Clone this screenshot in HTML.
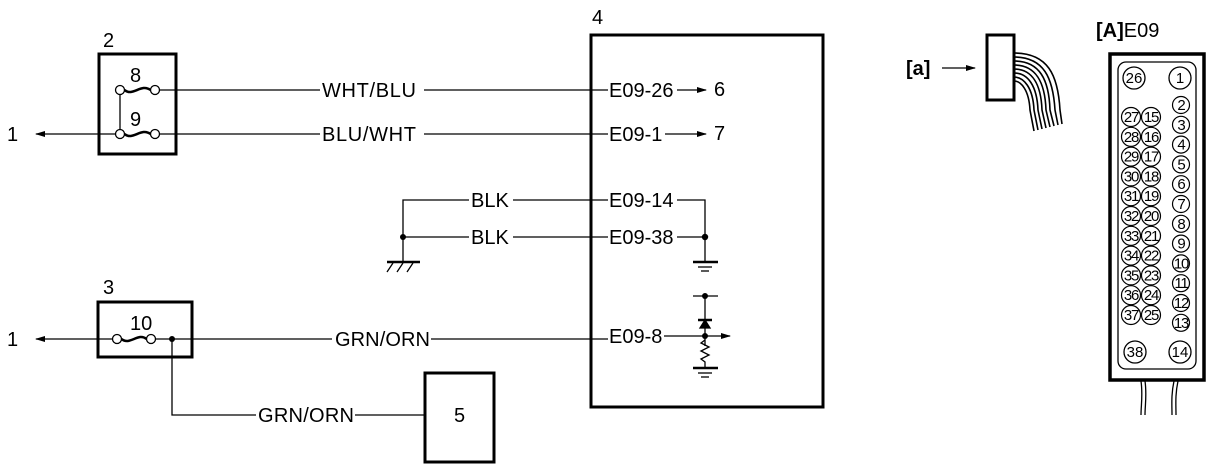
<!DOCTYPE html>
<html><head><style>html,body{margin:0;padding:0;background:#fff}svg{display:block}text{font-family:"Liberation Sans",sans-serif;fill:#000}</style></head>
<body>
<svg width="1214" height="474" viewBox="0 0 1214 474" xmlns="http://www.w3.org/2000/svg">
<defs><marker id="ar" markerWidth="10" markerHeight="8" refX="9" refY="4" orient="auto" markerUnits="userSpaceOnUse"><path d="M0,1 L10,4 L0,7 Z" fill="#000"/></marker></defs>
<g stroke="#000" fill="none" stroke-width="1.3">
<rect x="99" y="54" width="77" height="100" stroke-width="3"/>
<circle cx="120" cy="90" r="4.5"/><circle cx="155" cy="90" r="4.5"/>
<path d="M124.5,90 C133,97 141,83 150.5,90" stroke-width="2.5"/>
<circle cx="120" cy="134" r="4.5"/><circle cx="155" cy="134" r="4.5"/>
<path d="M124.5,134 C133,141 141,127 150.5,134" stroke-width="2.5"/>
<line x1="120" y1="94.5" x2="120" y2="129.5"/>
<line x1="115.5" y1="134" x2="36" y2="134" marker-end="url(#ar)"/>
<line x1="159.5" y1="90" x2="320" y2="90"/><line x1="424" y1="90" x2="608" y2="90"/>
<line x1="159.5" y1="134" x2="320" y2="134"/><line x1="424" y1="134" x2="608" y2="134"/>
<line x1="677" y1="90" x2="706" y2="90" marker-end="url(#ar)"/>
<line x1="665" y1="134" x2="706" y2="134" marker-end="url(#ar)"/>
<rect x="591" y="35" width="232" height="372" stroke-width="3"/>
<polyline points="403,262 403,200 469,200"/><line x1="513" y1="200" x2="608" y2="200"/>
<line x1="403" y1="237" x2="469" y2="237"/><line x1="513" y1="237" x2="608" y2="237"/>
<line x1="387" y1="262" x2="420" y2="262" stroke-width="2.5"/>
<path d="M393,263 L387,272 M403,263 L397,272 M413,263 L407,272"/>
<polyline points="677,200 705,200 705,262"/><line x1="677" y1="237" x2="705" y2="237"/>
<line x1="693" y1="262" x2="718" y2="262" stroke-width="2.5"/>
<line x1="698" y1="267" x2="712" y2="267"/><line x1="701" y1="271" x2="709" y2="271"/>
<line x1="693" y1="296" x2="718" y2="296"/>
<line x1="705" y1="296" x2="705" y2="346"/>
<line x1="698" y1="320" x2="712" y2="320" stroke-width="2.5"/>
<path d="M705,320 L700,328 L710,328 Z" fill="#000"/>
<line x1="705" y1="336" x2="730" y2="336" marker-end="url(#ar)"/>
<path d="M705,340 L701,343 L709,347 L701,351 L709,355 L701,359 L705,362 L705,368"/>
<line x1="693" y1="368" x2="718" y2="368" stroke-width="2.5"/>
<line x1="698" y1="373" x2="712" y2="373"/><line x1="701" y1="377" x2="709" y2="377"/>
<rect x="98" y="302" width="94" height="55" stroke-width="3"/>
<circle cx="117" cy="339" r="4.5"/><circle cx="151" cy="339" r="4.5"/>
<path d="M121.5,339 C130,346 138,332 146.5,339" stroke-width="2.5"/>
<line x1="112.5" y1="339" x2="36" y2="339" marker-end="url(#ar)"/>
<line x1="155.5" y1="339" x2="332" y2="339"/><line x1="431" y1="339" x2="608" y2="339"/>
<line x1="664" y1="336" x2="705" y2="336"/>
<polyline points="172,339 172,415 256,415"/><line x1="355" y1="415" x2="425" y2="415"/>
<rect x="425" y="373" width="69" height="89" stroke-width="3"/>
<line x1="942" y1="68" x2="975" y2="68" marker-end="url(#ar)"/>
<rect x="987" y="35" width="27" height="65" stroke-width="3"/>
<g stroke-width="1.6">
<path d="M1014,53 C1048,53 1058,75 1060,110 L1062,124"/>
<path d="M1014,57 C1044,57 1053,78 1055,110 L1058,125"/>
<path d="M1014,61 C1040,61 1049,80 1050,110 L1054,126"/>
<path d="M1014,65 C1036,65 1045,82 1046,110 L1050,127"/>
<path d="M1014,69 C1032,69 1041,84 1042,110 L1046,128"/>
<path d="M1014,73 C1028,73 1037,86 1038,110 L1042,129"/>
<path d="M1014,77 C1024,77 1033,88 1034,110 L1038,130"/>
<path d="M1014,81 C1021,81 1029,90 1030,110 L1034,131"/>
</g>
<rect x="1110" y="54" width="94" height="326" stroke-width="3.5"/>
<rect x="1118" y="62" width="78" height="307" rx="8"/>
<circle cx="1134" cy="78" r="11"/><circle cx="1180" cy="78" r="11"/>
<circle cx="1135" cy="352" r="11"/><circle cx="1180" cy="352" r="11"/>
<path d="M1141,381 C1143,395 1141,405 1141,415 M1145,381 C1147,395 1145,405 1145,415 M1174,381 C1171,395 1172,405 1172,415 M1178,381 C1175,395 1176,405 1176,415"/>
</g>
<g font-size="20">
<text x="103" y="47">2</text><text x="130" y="82">8</text><text x="130" y="126">9</text>
<text x="7" y="141">1</text><text x="7" y="346">1</text>
<text x="322" y="97" textLength="94">WHT/BLU</text><text x="322" y="141" textLength="94">BLU/WHT</text>
<text x="609" y="97">E09-26</text><text x="609" y="141">E09-1</text>
<text x="714" y="96">6</text><text x="714" y="140">7</text>
<text x="592" y="24">4</text>
<text x="471" y="207">BLK</text><text x="471" y="244">BLK</text>
<text x="609" y="207">E09-14</text><text x="609" y="244">E09-38</text>
<text x="103" y="294">3</text><text x="130" y="330">10</text>
<text x="335" y="346" textLength="95">GRN/ORN</text><text x="609" y="343">E09-8</text>
<text x="258" y="422" textLength="96">GRN/ORN</text><text x="454" y="422">5</text>
<text x="906" y="75" font-weight="bold">[a]</text>
<text x="1096" y="37"><tspan font-weight="bold">[A]</tspan>E09</text>
</g>
<g font-size="15" text-anchor="middle">
<text x="1134" y="83">26</text><text x="1180" y="83">1</text>
<text x="1135" y="357">38</text><text x="1180" y="357">14</text>
</g>
<g stroke="#000" fill="none" stroke-width="1.2">
<circle cx="1181" cy="105" r="8.5"/><circle cx="1181" cy="124.8" r="8.5"/><circle cx="1181" cy="144.6" r="8.5"/><circle cx="1181" cy="164.4" r="8.5"/><circle cx="1181" cy="184.2" r="8.5"/><circle cx="1181" cy="204" r="8.5"/><circle cx="1181" cy="223.8" r="8.5"/><circle cx="1181" cy="243.6" r="8.5"/><circle cx="1181" cy="263.4" r="8.5"/><circle cx="1181" cy="283.2" r="8.5"/><circle cx="1181" cy="303" r="8.5"/><circle cx="1181" cy="322.8" r="8.5"/>
<circle cx="1131" cy="117" r="9.5"/><circle cx="1131" cy="136.8" r="9.5"/><circle cx="1131" cy="156.6" r="9.5"/><circle cx="1131" cy="176.4" r="9.5"/><circle cx="1131" cy="196.2" r="9.5"/><circle cx="1131" cy="216" r="9.5"/><circle cx="1131" cy="235.8" r="9.5"/><circle cx="1131" cy="255.6" r="9.5"/><circle cx="1131" cy="275.4" r="9.5"/><circle cx="1131" cy="295.2" r="9.5"/><circle cx="1131" cy="315" r="9.5"/>
<circle cx="1151" cy="117" r="9.5"/><circle cx="1151" cy="136.8" r="9.5"/><circle cx="1151" cy="156.6" r="9.5"/><circle cx="1151" cy="176.4" r="9.5"/><circle cx="1151" cy="196.2" r="9.5"/><circle cx="1151" cy="216" r="9.5"/><circle cx="1151" cy="235.8" r="9.5"/><circle cx="1151" cy="255.6" r="9.5"/><circle cx="1151" cy="275.4" r="9.5"/><circle cx="1151" cy="295.2" r="9.5"/><circle cx="1151" cy="315" r="9.5"/>
</g>
<g font-size="15" text-anchor="middle" letter-spacing="-1.2">
<text x="1181" y="110">2</text><text x="1181" y="129.8">3</text><text x="1181" y="149.6">4</text><text x="1181" y="169.4">5</text><text x="1181" y="189.2">6</text><text x="1181" y="209">7</text><text x="1181" y="228.8">8</text><text x="1181" y="248.6">9</text><text x="1181" y="268.4">10</text><text x="1181" y="288.2">11</text><text x="1181" y="308">12</text><text x="1181" y="327.8">13</text>
<text x="1131" y="122">27</text><text x="1131" y="141.8">28</text><text x="1131" y="161.6">29</text><text x="1131" y="181.4">30</text><text x="1131" y="201.2">31</text><text x="1131" y="221">32</text><text x="1131" y="240.8">33</text><text x="1131" y="260.6">34</text><text x="1131" y="280.4">35</text><text x="1131" y="300.2">36</text><text x="1131" y="320">37</text>
<text x="1151" y="122">15</text><text x="1151" y="141.8">16</text><text x="1151" y="161.6">17</text><text x="1151" y="181.4">18</text><text x="1151" y="201.2">19</text><text x="1151" y="221">20</text><text x="1151" y="240.8">21</text><text x="1151" y="260.6">22</text><text x="1151" y="280.4">23</text><text x="1151" y="300.2">24</text><text x="1151" y="320">25</text>
</g>
<g fill="#000"><circle cx="403" cy="237" r="3"/><circle cx="705" cy="237" r="3.2"/><circle cx="705" cy="296" r="3"/><circle cx="705" cy="336" r="3"/><circle cx="172" cy="339" r="3"/></g>
</svg>
</body></html>
